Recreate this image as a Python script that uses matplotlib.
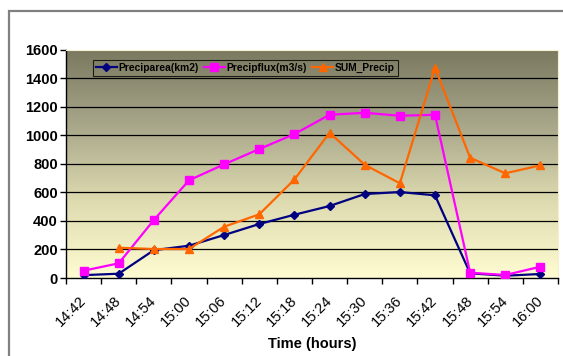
import numpy as np
import matplotlib.pyplot as plt
from matplotlib.colors import LinearSegmentedColormap
from matplotlib.patches import Rectangle

plt.rcParams['font.family'] = ['Liberation Sans', 'DejaVu Sans']

# minutes after 14:42
minutes = [3, 9, 15, 21, 27, 33, 39, 45, 51, 57, 63, 69, 75, 81]
tick_labels = ["14:42", "14:48", "14:54", "15:00", "15:06", "15:12", "15:18",
               "15:24", "15:30", "15:36", "15:42", "15:48", "15:54", "16:00"]

preciparea = [20, 30, 195, 226, 301, 378, 443, 504, 588, 602, 579, 33, 16, 28]
precipflux = [51, 103, 406, 684, 796, 903, 1008, 1143, 1157, 1136, 1143, 37, 21, 79]
sum_precip = [np.nan, 212, 203, 203, 359, 446, 690, 1017, 793, 663, 1472, 842, 733, 789]

fig = plt.figure(figsize=(5.63, 3.56), dpi=100)
fig.patch.set_facecolor("white")
fig.patches.append(Rectangle((9 / 563, -0.2), 1.2, 1.2 - 11 / 356,
                             transform=fig.transFigure, fill=False,
                             edgecolor="#808080", linewidth=1.6))

ax = fig.add_axes([66 / 563, 78 / 356, 492 / 563, 228.5 / 356])

# gradient plot area background
cmap = LinearSegmentedColormap.from_list(
    "bg", ["#fffcd2", "#dedbb0", "#a8a78a", "#7a7960"])
grad = np.linspace(0, 1, 256).reshape(-1, 1)
ax.imshow(grad, cmap=cmap, aspect="auto", origin="lower",
          extent=[0, 84, 0, 1600], zorder=0)

ax.plot(minutes, preciparea, color="#000080", marker="D", markersize=4,
        linewidth=1.6, label="Preciparea(km2)", zorder=3)
ax.plot(minutes, precipflux, color="#ff00ff", marker="s", markersize=6,
        linewidth=1.6, label="Precipflux(m3/s)", zorder=3)
ax.plot(minutes, sum_precip, color="#ff6600", marker="^", markersize=6,
        linewidth=1.6, label="SUM_Precip", zorder=3)

ax.set_xlim(0, 84)
ax.set_ylim(0, 1600)
ax.set_yticks(range(0, 1601, 200))
ax.set_yticklabels([str(v) for v in range(0, 1601, 200)],
                   fontsize=10.5, fontweight="bold")

# tick marks on major ticks, labels carried by minor ticks a bit to the right
ax.set_xticks(range(0, 85, 6))
ax.set_xticklabels([])
ax.set_xticks([t + 2.2 for t in range(0, 79, 6)], minor=True)
ax.set_xticklabels(tick_labels, minor=True, fontsize=10.5, rotation=45,
                   ha="right", va="top", rotation_mode="anchor")
ax.tick_params(axis="x", which="major", direction="out", length=4, width=1)
ax.tick_params(axis="x", which="minor", length=0, pad=11)
ax.tick_params(axis="y", direction="out", length=4, width=1, pad=2)
for v in range(200, 1600, 200):
    ax.axhline(v, color="black", linewidth=0.9, zorder=1)

for side in ["top", "right"]:
    ax.spines[side].set_color("#f4f0d0")
    ax.spines[side].set_linewidth(0.8)
for side in ["left", "bottom"]:
    ax.spines[side].set_color("black")
    ax.spines[side].set_linewidth(1.0)

ax.set_xlabel("Time (hours)", fontsize=10.5, fontweight="bold", labelpad=6)

leg = ax.legend(loc="upper left", ncol=3, bbox_to_anchor=(0.055, 0.955),
                prop={"size": 7.4, "weight": "bold"}, frameon=True,
                fancybox=False, handlelength=2.0, handletextpad=0.2,
                columnspacing=0.5, borderpad=0.3, borderaxespad=0)
leg.get_frame().set_facecolor("none")
leg.get_frame().set_edgecolor("black")
leg.get_frame().set_linewidth(0.8)

fig.savefig("out.png", dpi=100)
